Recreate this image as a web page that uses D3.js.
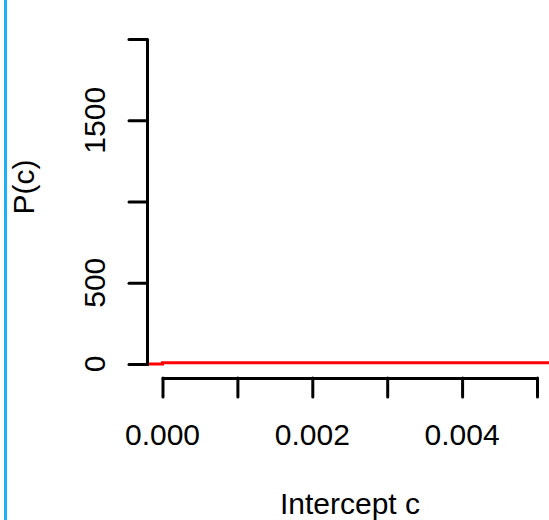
<!DOCTYPE html>
<html>
<head>
<meta charset="utf-8">
<script src="https://cdn.jsdelivr.net/npm/d3@7"></script>
<style>
  body { margin: 0; background: #fff; }
  text { font-family: "Liberation Sans", Arial, sans-serif; }
</style>
</head>
<body>
<script>
// density curve P(c) over intercept c (step at c = 0)
const cValues = [-0.0002, 0, 0, 0.0052];
const pValues = [0, 0, 8, 8];

const xTicks = [0, 0.001, 0.002, 0.003, 0.004, 0.005];
const xTickLabels = ["0.000", "", "0.002", "", "0.004", ""];
const yTicks = [0, 500, 1000, 1500, 2000];
const yTickLabels = ["0", "500", "", "1500", ""];

const W = 549, H = 520;
const svg = d3.select("body").append("svg")
    .attr("width", W)
    .attr("height", H);

let x = d3.scaleLinear().domain([0, 0.005]).range([162.5, 537]);
let y = d3.scaleLinear().domain([0, 2000]).range([364, 39]);

// blue bar on the left edge
svg.append("rect")
   .attr("x", 4).attr("y", 0)
   .attr("width", 3).attr("height", H)
   .attr("fill", "#1cb0f6");

svg.append("clipPath").attr("id", "plot")
   .append("rect").attr("x", 148).attr("y", 0).attr("width", W - 148).attr("height", 372);

const pts = cValues.map((c, i) => [c, pValues[i]]);
svg.append("path")
   .datum(pts)
   .attr("clip-path", "url(#plot)")
   .attr("fill", "none")
   .attr("stroke", "red")
   .attr("stroke-width", 3)
   .attr("d", d3.line().x(d => x(d[0])).y(d => y(d[1])));

// y axis
let yAxis = svg.append("g")
   .attr("transform", "translate(147,0)")
   .call(d3.axisLeft(y).tickValues(yTicks).tickSize(18).tickSizeOuter(0).tickFormat(""));
// x axis
let xAxis = svg.append("g")
   .attr("transform", "translate(0,378)")
   .call(d3.axisBottom(x).tickValues(xTicks).tickSize(19).tickSizeOuter(0).tickFormat(""));

[yAxis, xAxis].forEach(g => {
    g.selectAll("path, line")
     .attr("stroke", "#000")
     .attr("stroke-width", 3)
     .attr("stroke-linecap", "round");
});

svg.append("g")
   .selectAll("text")
   .data(yTicks)
   .enter()
   .append("text")
   .attr("transform", d => `translate(105,${y(d)}) rotate(-90)`)
   .attr("text-anchor", "middle")
   .attr("font-size", 30)
   .text((d, i) => yTickLabels[i]);

svg.append("g")
   .selectAll("text")
   .data(xTicks)
   .enter()
   .append("text")
   .attr("x", d => x(d))
   .attr("y", 445)
   .attr("text-anchor", "middle")
   .attr("font-size", 30)
   .text((d, i) => xTickLabels[i]);

svg.append("text")
   .attr("x", 350).attr("y", 514)
   .attr("text-anchor", "middle")
   .attr("font-size", 30)
   .text("Intercept c");

svg.append("text")
   .attr("transform", "translate(34,187) rotate(-90)")
   .attr("text-anchor", "middle")
   .attr("font-size", 30)
   .text("P(c)");
</script>
</body>
</html>
